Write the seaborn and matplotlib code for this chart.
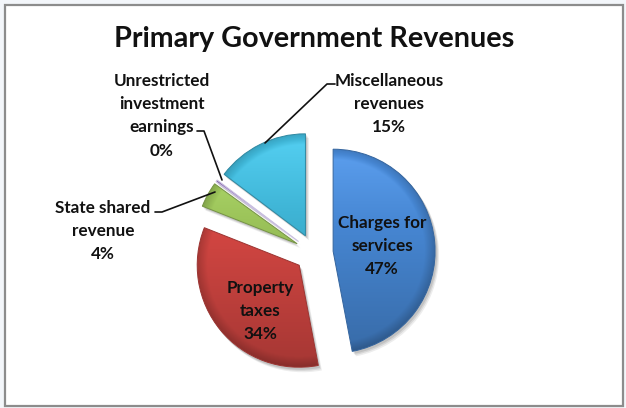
import numpy as np
import matplotlib
matplotlib.use("Agg")
import matplotlib.pyplot as plt
import seaborn as sns
from matplotlib.patches import Rectangle
from matplotlib.colors import to_rgb

# Revenue sources and their shares (percent of total)
categories = ["Charges for services", "Property taxes", "State shared revenue",
              "Unrestricted investment earnings", "Miscellaneous revenues"]
label_lines = [["Charges for", "services"], ["Property", "taxes"],
               ["State shared", "revenue"], ["Unrestricted", "investment", "earnings"],
               ["Miscellaneous", "revenues"]]
shares = [47.0, 34.0, 4.0, 0.3, 14.7]
slice_colors = ["#4686d2", "#cf4541", "#9cc45a", "#8a6bb0", "#3fb5d6"]
title = "Primary Government Revenues"

sns.set_style("white")
plt.rcParams["font.family"] = ["Lato", "DejaVu Sans"]

W, H = 626, 408
fig = plt.figure(figsize=(W / 100, H / 100), dpi=100, facecolor="#f3f6fa")
ax = fig.add_axes([0, 0, 1, 1])


def Y(y):
    # convert a top-down pixel row into the axes' bottom-up coordinate
    return H - y


# chart area with grey frame
ax.add_patch(Rectangle((4.5, Y(405.5)), 618.5, 401, facecolor="white",
                       edgecolor="#8c8c8c", lw=1.6, zorder=0))

cx, cy, R = 314, Y(253), 102
explode = [19.2] * len(shares)

# soft drop shadow beneath the slices
for dx, dy, a in [(3.5, -4.5, 0.07), (2.5, -3.2, 0.09), (1.5, -2.0, 0.10)]:
    sw, _ = ax.pie(shares, explode=explode, startangle=90, counterclock=False,
                   center=(cx + dx, cy + dy), radius=R + 0.5, frame=True,
                   colors=["#000000"] * len(shares),
                   wedgeprops=dict(alpha=a, linewidth=0))
    for w in sw:
        w.set_zorder(1)

wedges, _ = ax.pie(shares, explode=explode, startangle=90, counterclock=False,
                   center=(cx, cy), radius=R, colors=slice_colors, frame=True,
                   wedgeprops=dict(linewidth=0.7))

# shaded fill for every slice: lighter on top, darker towards the rim
n = 260
for w, col in zip(wedges, slice_colors):
    base = np.array(to_rgb(col))
    wx, wy = w.center
    xs = np.linspace(wx - R, wx + R, n)
    ys = np.linspace(wy + R, wy - R, n)
    XX, YY = np.meshgrid(xs, ys)
    v = (YY - (wy - R)) / (2 * R)
    rr = np.hypot(XX - wx, YY - wy) / R
    light = 0.80 + 0.32 * v
    rim = np.clip((rr - 0.90) / 0.10, 0, 1)
    light = light * (1 - 0.18 * rim)
    rgb = base[None, None, :] * light[..., None]
    over = np.clip(light - 1.0, 0, None)[..., None]
    rgb = np.clip(rgb + over * (1 - base[None, None, :]) * 0.6, 0, 1)
    im = ax.imshow(rgb, extent=[wx - R, wx + R, wy - R, wy + R], aspect="auto",
                   zorder=2, interpolation="bilinear")
    im.set_clip_path(w)
    w.set_facecolor("none")
    w.set_edgecolor(tuple(base * 0.75))
    w.set_zorder(3)

# the thinnest slice gets light borders so it reads as a separate sliver
wedges[3].set_edgecolor("#c9bfe0")
wedges[3].set_linewidth(0.8)

pct = [f"{round(s):.0f}%" for s in shares]
lab_font = dict(fontsize=12.3, fontweight="bold", color="#111111",
                ha="center", va="baseline", zorder=5)

# label anchors: (center x, first baseline) and line step
label_pos = [(382, 228), (260, 293), (103, 213), (161.5, 86), (389, 86)]
step = 23.2
for lines, p, (lx, ly) in zip(label_lines, pct, label_pos):
    for i, t in enumerate(lines + [p]):
        ax.text(lx, Y(ly + i * step), t, **lab_font)

# leader lines for the labels placed outside the pie
leaders = [
    [(155, 212), (162, 212), (215, 192)],   # State shared revenue
    [(197, 131), (204, 131), (222, 180)],   # Unrestricted investment earnings
    [(335, 84), (327, 84), (265, 143)],     # Miscellaneous revenues
]
for pts in leaders:
    xs_, ys_ = zip(*pts)
    ax.plot(xs_, [Y(y) for y in ys_], color="#111111", lw=1.2, zorder=4)

ax.text(314, Y(47), title, fontsize=20.7, fontweight="bold", color="#111111",
        ha="center", va="baseline", zorder=5)

ax.set_xlim(0, W)
ax.set_ylim(0, H)
ax.set_aspect("equal")
ax.axis("off")

fig.savefig("out.png", dpi=100, facecolor=fig.get_facecolor())
